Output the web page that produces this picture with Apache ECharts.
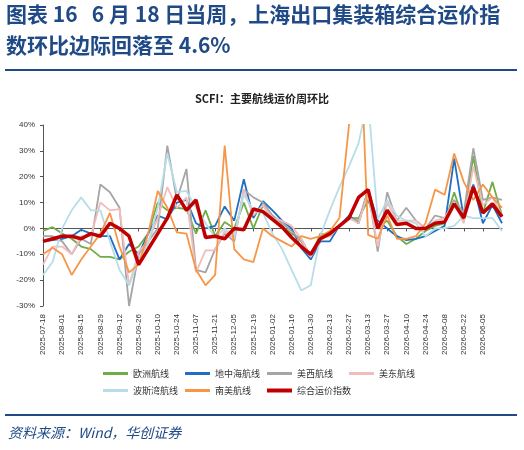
<!DOCTYPE html>
<html>
<head>
<meta charset="utf-8">
<script src="https://cdn.jsdelivr.net/npm/echarts@6/dist/echarts.min.js"></script>
<style>
html,body{margin:0;padding:0;background:#fff;}
#box{width:524px;height:450px;}
</style>
</head>
<body>
<div id="box"></div>
<script>
// 周度日期：2025-07-18 起，共 49 周
var dates = [];
(function () {
    var d = new Date(Date.UTC(2025, 6, 18));
    for (var i = 0; i < 49; i++) {
        var m = d.getUTCMonth() + 1, day = d.getUTCDate();
        dates.push(d.getUTCFullYear() + '-' + (m < 10 ? '0' + m : m) + '-' + (day < 10 ? '0' + day : day));
        d.setUTCDate(day + 7);
    }
})();

var europe = [-1, 0.5, -2, -4, -7, -8, -11, -11, -12, -9, -7, -2, 10, 7, 8, 7.5, -2, 7, -3, 2.5, 0, 10, 0, 9, 4,
    1, -2, -4, -11, -2, -3, 1, 4, 4, 11, 0, 3, -3, -6, -4, -1, 1, 2, 14, 3, 28, 6, 18, 5];
var med = [-5, -4.5, -4, -3, -0.5, -2, -3, -3, -12, -6, -10, -2, 5, 3.5, 10, 11, 2, 0, 1, 8.5, 3, 19, 4, 10.5, 7,
    3, 0, -7.5, -12, -5, -5, 1, 5, 2, 15, 3, 0, -3, -4.5, -4, -3, -1, 1, 27, 4, 17, 2, 9, 2];
var usWest = [-3, -3, -5, -10, -4, -6, 17, 14, 8, -30, -10, -5, 0, 32, 11, 23, -16, -17, -8, -2, -5, 15, 12, 10, 5,
    2, -1, -5, -11, -3, -3, 1, 4, 3, 15, -9, 14, 3, 8, 3, 0, 5, 4, 11, 6, 31, 11, 12, 11];
var usEast = [-14, -7, -7, -10, -3, -3, 10, 7, 7.5, -22, -9, -5, 4, 16, 8, 12, -17, -8.5, -8.5, -1, -4, 15, 5, 9, 4,
    3, 1, -4, -11, -4, -3, 1, 4, 2, 14, -7, 10, 3, 3, 3, 0, 3, 4, 10, 2, 24, 9, 12, 5];
var gulf = [-18, -13, 0, 7, 12, 7, 7, -5, -16, -22, -12, -6, 8, 29, 14, 14.5, 8, 2, -3.5, 0, -3, 13, 7, 6,
    -2, -8, -16, -24, -22, -3, 7, 16, 24, 33, 50, 3.5, 11, 5, 3, 2, -3, 0, 0, 1, 5, 4, 4, 4, -1];
var southAm = [-10, -7.5, -10, -18, -12, -7, -2, 6, -7, -17, -14, -2, 14.5, 8, -1.5, -2, -16, -22, -18, 32, -8, -12, -13, 0, -3,
    -5, -7, -3, -4, -3, -1, 4, 40, 90, -2.5, -4, 5, -4, -4, -3, 2, 15, 13, 29, 18, 11, 17, 12, 8];
var composite = [-5, -4, -3, -3, -4, -2, -3, 2, 0, -3, -14, -8, -2, 4, 13, 7, 11, -3.5, -3, -4, 0, -0.5, 7.5,
    6.5, 3.5, 0.5, -3.5, -7, -10, -4, -2, 1, 4, 12, 15, 0, 7, 1.5, 2, 0, 0, 2, 2.5, 9.5, 4, 16, 6, 9.5, 4.5];

var names = ['欧洲航线', '地中海航线', '美西航线', '美东航线', '波斯湾航线', '南美航线', '综合运价指数'];
var colors = ['#70AD47', '#1F6FC5', '#A5A5A5', '#F2BCBC', '#B7DEE8', '#F79646', '#C00000'];
var datas = [europe, med, usWest, usEast, gulf, southAm, composite];
var legendPos = [[98, 364], [180, 364], [262, 364], [344, 364], [98, 381], [180, 381], [262, 381]];

var myChart = echarts.init(document.getElementById('box'));
var navy = '#1F4A86';
var series = [];
var legends = [];
for (let i = 0; i < names.length; i++) {
    series.push({
        name: names[i],
        type: 'line',
        data: datas[i],
        symbol: 'none',
        z: i == 6 ? 10 : 2,
        lineStyle: { color: colors[i], width: i == 6 ? 3.5 : 1.8 },
        itemStyle: { color: colors[i] }
    });
    legends.push({
        data: [names[i]], left: legendPos[i][0], top: legendPos[i][1],
        itemWidth: 25, itemHeight: i == 6 ? 4 : 3, icon: 'rect', itemGap: 4,
        textStyle: { fontSize: 9, color: '#333', fontFamily: 'Noto Sans CJK SC' }
    });
}

var showLabel = function (i) { return i % 2 == 0 && i < 48; };

var option = {
    backgroundColor: '#fff',
    animation: false,
    graphic: [
        { type: 'text', left: 6, top: 4, style: { text: '图表 16   6 月 18 日当周，上海出口集装箱综合运价指', fill: navy, font: 'bold 21px "Noto Sans CJK SC"' } },
        { type: 'text', left: 6, top: 35, style: { text: '数环比边际回落至 4.6%', fill: navy, font: 'bold 21px "Noto Sans CJK SC"' } },
        { type: 'rect', shape: { x: 5, y: 69, width: 512, height: 2 }, style: { fill: navy } },
        { type: 'text', left: 'center', top: 93, style: { text: 'SCFI：主要航线运价周环比', fill: '#222', font: 'bold 11px "Noto Sans CJK SC"' } },
        { type: 'rect', shape: { x: 5, y: 414, width: 512, height: 2 }, style: { fill: navy } },
        { type: 'text', left: 8, top: 426, style: { text: '资料来源：Wind，华创证券', fill: navy, font: 'italic 14px "Noto Sans CJK SC"' } }
    ],
    legend: legends,
    grid: { left: 43, right: 22, top: 125, bottom: 144, containLabel: false },
    xAxis: {
        type: 'category',
        data: dates,
        boundaryGap: false,
        axisLine: { onZero: true, lineStyle: { color: '#555' } },
        axisTick: { show: true, interval: showLabel, length: 3, lineStyle: { color: '#555' } },
        axisLabel: { rotate: 90, interval: showLabel, fontSize: 8, color: '#333', margin: 8, fontFamily: 'Liberation Sans' }
    },
    yAxis: {
        type: 'value',
        min: -30, max: 40, interval: 10,
        splitLine: { show: false },
        axisLine: { show: true, lineStyle: { color: '#555' } },
        axisTick: { show: true, length: 3, inside: false },
        axisLabel: { formatter: '{value}%', fontSize: 8, color: '#333', fontFamily: 'Liberation Sans' }
    },
    series: series
};
myChart.setOption(option);
</script>
</body>
</html>
